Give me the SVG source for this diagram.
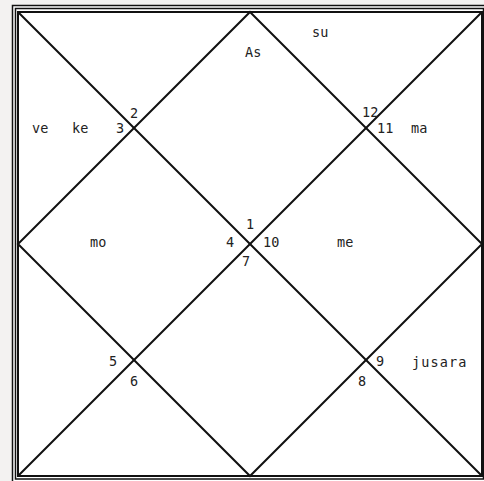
<svg xmlns="http://www.w3.org/2000/svg" width="484" height="481" viewBox="0 0 484 481">
<style>
.frame{fill:none;stroke:#111;stroke-width:1.5}
.ln{stroke:#111;stroke-width:2;fill:none;stroke-linecap:round}
text{font-family:"DejaVu Sans Mono","Liberation Mono",monospace;font-size:13.5px;fill:#222}
</style>
<rect x="0" y="0" width="484" height="481" fill="#f3f2f1"/>
<rect x="12.5" y="5.5" width="480" height="480" fill="#ffffff"/>
<rect x="12.5" y="5.5" width="480" height="480" class="frame"/>
<rect x="15.5" y="8.5" width="468" height="470.5" class="frame"/>
<g id="connectors">
<rect x="18" y="12" width="464" height="464" class="ln"/>
<line x1="18" y1="12" x2="482" y2="476" class="ln"/>
<line x1="482" y1="12" x2="18" y2="476" class="ln"/>
<polygon points="250,12 482,244 250,476 18,244" class="ln"/>
</g>
<g id="house1"><text x="245" y="57">As</text><text x="246" y="229">1</text></g>
<g id="house2"><text x="312" y="37">su</text><text x="130" y="118">2</text></g>
<g id="house3"><text x="32" y="133">ve</text><text x="72" y="133">ke</text><text x="116" y="133">3</text></g>
<g id="house4"><text x="90" y="247">mo</text><text x="226" y="247">4</text></g>
<g id="house5"><text x="109" y="366">5</text></g>
<g id="house6"><text x="130" y="386">6</text></g>
<g id="house7"><text x="242" y="266">7</text></g>
<g id="house8"><text x="358" y="386">8</text></g>
<g id="house9"><text x="376" y="366">9</text><text x="412" y="367" letter-spacing="1.1">jusara</text></g>
<g id="house10"><text x="263" y="247">10</text><text x="337" y="247">me</text></g>
<g id="house11"><text x="377" y="133">11</text><text x="411" y="133">ma</text></g>
<g id="house12"><text x="362" y="117">12</text></g>
</svg>
